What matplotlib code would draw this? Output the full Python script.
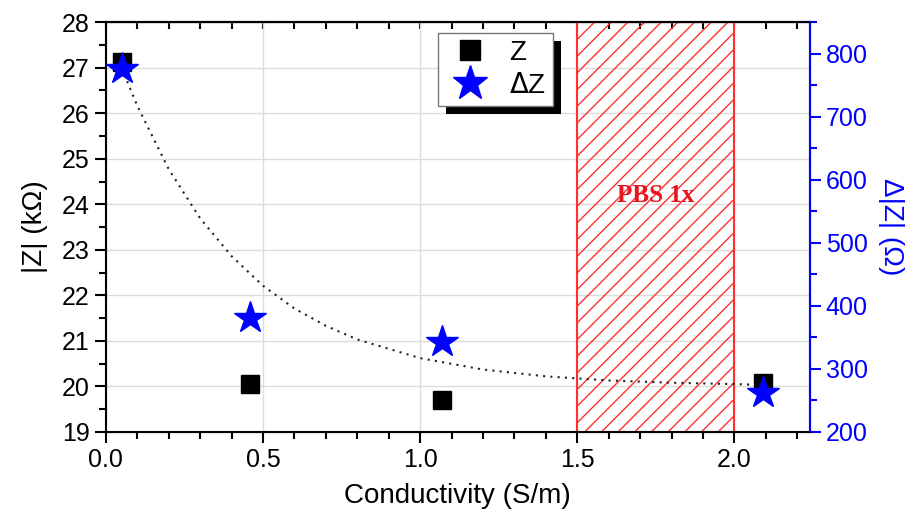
import matplotlib
matplotlib.use("Agg")
import matplotlib.pyplot as plt
import matplotlib.patches as mpatches
from matplotlib.ticker import MultipleLocator

plt.rcParams["font.family"] = ["Liberation Sans", "DejaVu Sans"]
plt.rcParams["hatch.color"] = "#ff3030"
plt.rcParams["hatch.linewidth"] = 1.0

# data
cond = [0.05, 0.46, 1.07, 2.09]
z_kohm = [27.12, 20.06, 19.71, 20.08]
dz_ohm = [776, 381, 343, 262]

# dotted guide curve
fit_x = [0.05, 0.1, 0.2, 0.3, 0.4, 0.5, 0.6, 0.7, 0.8, 1.0, 1.2, 1.4, 1.6, 1.8, 2.0, 2.1]
fit_y = [27.0, 26.16, 24.77, 23.69, 22.86, 22.21, 21.71, 21.33, 21.03, 20.62,
         20.37, 20.22, 20.13, 20.08, 20.05, 20.03]

pbs_range = (1.5, 2.0)

fig = plt.figure(figsize=(9.13, 5.16), dpi=100)
ax = fig.add_axes([0.116, 0.163, 0.771, 0.794])
ax2 = ax.twinx()

# PBS region
ax.add_patch(mpatches.Rectangle((pbs_range[0], 19), pbs_range[1] - pbs_range[0], 9,
                                facecolor="none", edgecolor="#ff3030", hatch="//",
                                linewidth=1.5, zorder=1))
ax.text(1.75, 24.2, "PBS 1x", color="#e8141e", fontsize=18, fontweight="bold",
        family="Liberation Serif", ha="center", va="center", zorder=3)

ax.plot(fit_x, fit_y, linestyle=(0, (1, 2.5)), color="#222222", linewidth=1.5, zorder=2)
h1, = ax.plot(cond, z_kohm, "s", color="black", markersize=13, zorder=4, label="Z")
h2, = ax2.plot(cond, dz_ohm, "*", color="blue", markersize=24, zorder=5, label=r"$\Delta$Z")

ax.set_xlim(0, 2.24)
ax.set_ylim(19, 28)
ax2.set_ylim(200, 850)

ax.xaxis.set_major_locator(MultipleLocator(0.5))
ax.xaxis.set_minor_locator(MultipleLocator(0.1))
ax.yaxis.set_major_locator(MultipleLocator(1))
ax.yaxis.set_minor_locator(MultipleLocator(0.5))
ax2.set_yticks([200, 300, 400, 500, 600, 700, 800])
ax2.yaxis.set_minor_locator(MultipleLocator(50))

ax.grid(True, which="major", color="#dcdcdc", linewidth=1)
ax.set_axisbelow(True)

ax.tick_params(axis="both", which="major", direction="out", length=8, width=1.5,
               labelsize=18)
ax.tick_params(axis="both", which="minor", direction="out", length=5, width=1.5)
ax2.tick_params(axis="y", which="major", direction="out", length=8, width=1.5,
                labelsize=18, colors="blue")
ax2.tick_params(axis="y", which="minor", direction="out", length=5, width=1.5,
                colors="blue")

# top axis ticks pointing in
top = ax.secondary_xaxis("top")
top.xaxis.set_major_locator(MultipleLocator(0.5))
top.xaxis.set_minor_locator(MultipleLocator(0.1))
top.tick_params(which="both", direction="in", length=5, width=1.5, labeltop=False)
top.spines["top"].set_linewidth(1.5)

for s in ax.spines.values():
    s.set_linewidth(1.5)
ax2.spines["right"].set_color("blue")
ax2.spines["right"].set_linewidth(1.5)
ax2.spines["left"].set_visible(False)

ax.set_xlabel("Conductivity (S/m)", fontsize=20, labelpad=8)
ax.set_ylabel("|Z| (k\u03a9)", fontsize=20, labelpad=10)
ax2.set_ylabel("\u0394|Z| (\u03a9)", fontsize=20, color="blue", rotation=270, labelpad=26)

leg = ax2.legend(handles=[h1, h2], loc="upper left", bbox_to_anchor=(0.472, 0.973),
                 fancybox=False, framealpha=1, edgecolor="#777777", fontsize=20,
                 borderpad=0.25, handletextpad=0.5, labelspacing=0.25, markerscale=1.1,
                 handlelength=1.8, borderaxespad=0)
leg.get_frame().set_linewidth(1.0)
leg.set_zorder(10)

# black drop shadow behind the legend
fig.canvas.draw()
bb = leg.get_window_extent()
off = 8
shadow = mpatches.Rectangle((bb.x0 + off, bb.y0 - off), bb.width, bb.height,
                            transform=None, facecolor="black", edgecolor="none",
                            zorder=9)
ax2.add_artist(shadow)

fig.savefig("out.png", dpi=100)
print("Done")
